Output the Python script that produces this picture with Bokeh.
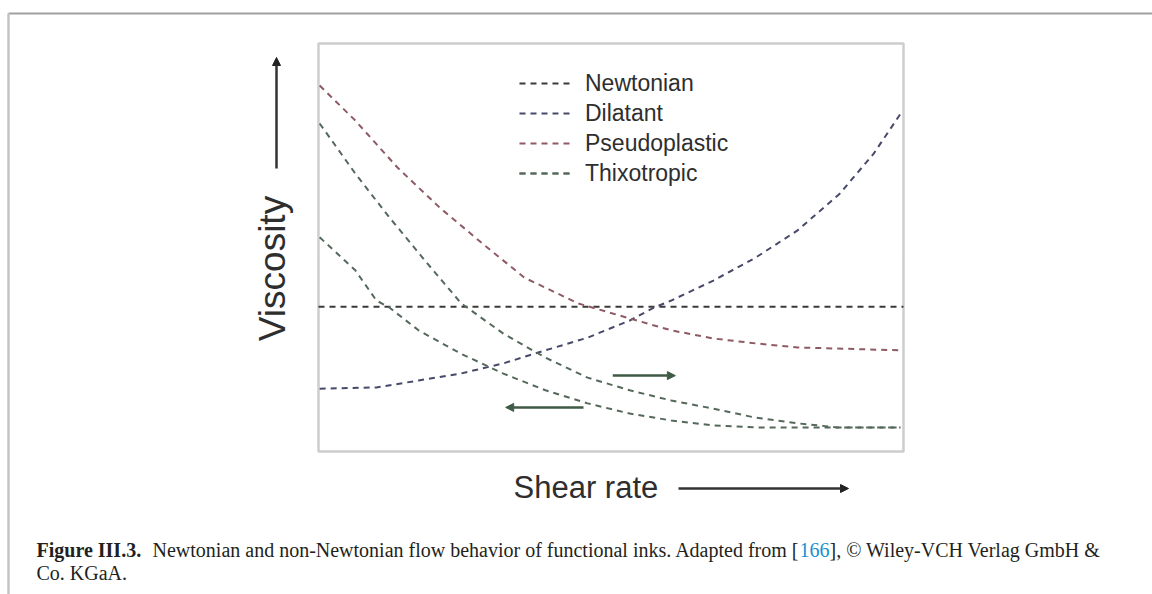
from bokeh.plotting import figure
from bokeh.models import Label, Arrow, NormalHead, Legend, LegendItem, Range1d, BoxAnnotation
from bokeh.embed import file_html
from bokeh.resources import INLINE

# ---- data (arbitrary units: shear rate 0..10, viscosity 0..10) ----
newt_x = [0.0, 10.0]
newt_y = [3.55, 3.55]

dil_x = [0.02, 0.99, 1.71, 2.43, 3.16, 3.88, 4.60, 5.32, 5.74, 6.03, 6.75, 7.47, 8.19, 8.91, 9.49, 9.95]
dil_y = [1.54, 1.57, 1.74, 1.91, 2.16, 2.48, 2.79, 3.21, 3.53, 3.70, 4.19, 4.75, 5.42, 6.32, 7.30, 8.28]

pseudo_x = [0.02, 0.63, 1.35, 2.07, 2.80, 3.52, 4.44, 5.32, 6.03, 6.75, 7.47, 8.19, 9.95]
pseudo_y = [8.97, 8.11, 6.96, 5.98, 5.10, 4.26, 3.63, 3.26, 2.97, 2.77, 2.65, 2.55, 2.48]

thixo_up_x = [0.02, 0.63, 1.21, 1.86, 2.44, 3.16, 3.88, 4.60, 5.32, 6.03, 6.75, 7.47, 8.19, 8.87, 9.95]
thixo_up_y = [8.04, 6.81, 5.74, 4.61, 3.63, 2.89, 2.30, 1.81, 1.50, 1.25, 1.05, 0.83, 0.69, 0.59, 0.59]

thixo_dn_x = [0.02, 0.63, 0.99, 1.21, 1.71, 2.43, 3.16, 3.88, 4.60, 5.32, 6.03, 6.75, 7.47, 9.95]
thixo_dn_y = [5.25, 4.44, 3.70, 3.53, 2.97, 2.40, 1.91, 1.50, 1.18, 0.93, 0.76, 0.64, 0.59, 0.59]

# direction arrows of the thixotropic loop: (x_start, x_end, y)
arrow_fwd = (5.03, 6.10, 1.86)
arrow_back = (4.53, 3.20, 1.08)

labels = ["Newtonian", "Dilatant", "Pseudoplastic", "Thixotropic"]
colors = ["#3a3a3a", "#464a68", "#8e5a63", "#55695b"]

x_title = "Shear rate"
y_title = "Viscosity"
cap_bold = "Figure III.3."
cap_a = "Newtonian and non-Newtonian flow behavior of functional inks. Adapted from ["
cap_ref = "166"
cap_b = "], \u00a9 Wiley-VCH Verlag GmbH &"
cap_line2 = "Co. KGaA."

# ---- layout (pixels) ----
W, H = 1152, 594
BOX_L, BOX_R, BOX_T, BOX_B = 318, 903, 43, 451
X0, X1, Y0, Y1 = 0.0, 10.0, 0.0, 10.0
ppx = (BOX_R - BOX_L) / (X1 - X0)
ppy = (BOX_B - BOX_T) / (Y1 - Y0)

p = figure(width=W, height=H, output_backend="svg", toolbar_location=None,
           x_range=Range1d(X0 - BOX_L / ppx, X1 + (W - BOX_R) / ppx),
           y_range=Range1d(Y0 - (H - BOX_B) / ppy, Y1 + BOX_T / ppy),
           min_border=0)
p.axis.visible = False
p.grid.visible = False
p.outline_line_color = None
p.border_fill_color = "white"

# plot box
p.add_layout(BoxAnnotation(left=X0, right=X1, bottom=Y0, top=Y1, fill_alpha=0,
                           line_color="#5a5a5a", line_width=2.5))

dash = "6 5"
r_newt = p.line(newt_x, newt_y, line_color=colors[0], line_width=2, line_dash=dash)
r_dil = p.line(dil_x, dil_y, line_color=colors[1], line_width=2, line_dash=dash)
r_pse = p.line(pseudo_x, pseudo_y, line_color=colors[2], line_width=2, line_dash=dash)
r_th1 = p.line(thixo_up_x, thixo_up_y, line_color=colors[3], line_width=2, line_dash=dash)
r_th2 = p.line(thixo_dn_x, thixo_dn_y, line_color=colors[3], line_width=2, line_dash=dash)

for (xs, xe, yy) in (arrow_fwd, arrow_back):
    p.add_layout(Arrow(end=NormalHead(size=8, fill_color="#3f5a45", line_color="#3f5a45"),
                       x_start=xs, y_start=yy, x_end=xe, y_end=yy,
                       line_color="#3f5a45", line_width=2.5))

legend = Legend(items=[LegendItem(label=labels[0], renderers=[r_newt]),
                       LegendItem(label=labels[1], renderers=[r_dil]),
                       LegendItem(label=labels[2], renderers=[r_pse]),
                       LegendItem(label=labels[3], renderers=[r_th1, r_th2])],
                location=(519, H - 188), label_text_font="Liberation Sans",
                label_text_font_size="23px", label_text_color="#2e2e2e",
                glyph_width=55, glyph_height=30, label_height=30, spacing=0,
                padding=0, margin=0, label_standoff=11,
                border_line_alpha=0, background_fill_alpha=0)
p.add_layout(legend)

# axis titles and arrows (screen units, y measured from the bottom)
p.add_layout(Label(x=513, y=H - 487, x_units="screen", y_units="screen", text=x_title,
                   text_font="Liberation Sans", text_font_size="31px",
                   text_color="#2e2e2e", text_baseline="middle"))
p.add_layout(Label(x=272, y=H - 268, x_units="screen", y_units="screen", text=y_title,
                   angle=90, angle_units="deg", text_align="center",
                   text_font="Liberation Sans", text_font_size="37px",
                   text_color="#2e2e2e", text_baseline="middle"))
p.add_layout(Arrow(end=NormalHead(size=8, fill_color="#222", line_color="#222"),
                   x_start=678, y_start=H - 488, x_end=848, y_end=H - 488,
                   start_units="screen", end_units="screen",
                   line_color="#333", line_width=2.5))
p.add_layout(Arrow(end=NormalHead(size=8, fill_color="#222", line_color="#222"),
                   x_start=276, y_start=H - 168, x_end=276, y_end=H - 57,
                   start_units="screen", end_units="screen",
                   line_color="#333", line_width=2.5))

# page rules
p.add_layout(Arrow(end=None, x_start=8, y_start=H - 13, x_end=W, y_end=H - 13,
                   start_units="screen", end_units="screen",
                   line_color="#a0a0a0", line_width=2))
p.add_layout(Arrow(end=None, x_start=8, y_start=H - 13, x_end=8, y_end=0,
                   start_units="screen", end_units="screen",
                   line_color="#c4c4c4", line_width=2.5))

# caption
cap_kw = dict(x_units="screen", y_units="screen", text_font="Liberation Serif",
              text_font_size="20px", text_color="#231f20", text_baseline="middle")
p.add_layout(Label(x=36, y=H - 549, text=cap_bold, text_font_style="bold", **cap_kw))
p.add_layout(Label(x=152, y=H - 549, text=cap_a, **cap_kw))
p.add_layout(Label(x=799, y=H - 549, text=cap_ref, **{**cap_kw, "text_color": "#1a8fd0"}))
p.add_layout(Label(x=829, y=H - 549, text=cap_b, **cap_kw))
p.add_layout(Label(x=36, y=H - 572, text=cap_line2, **cap_kw))

open("out.html", "w").write(file_html(p, INLINE))
